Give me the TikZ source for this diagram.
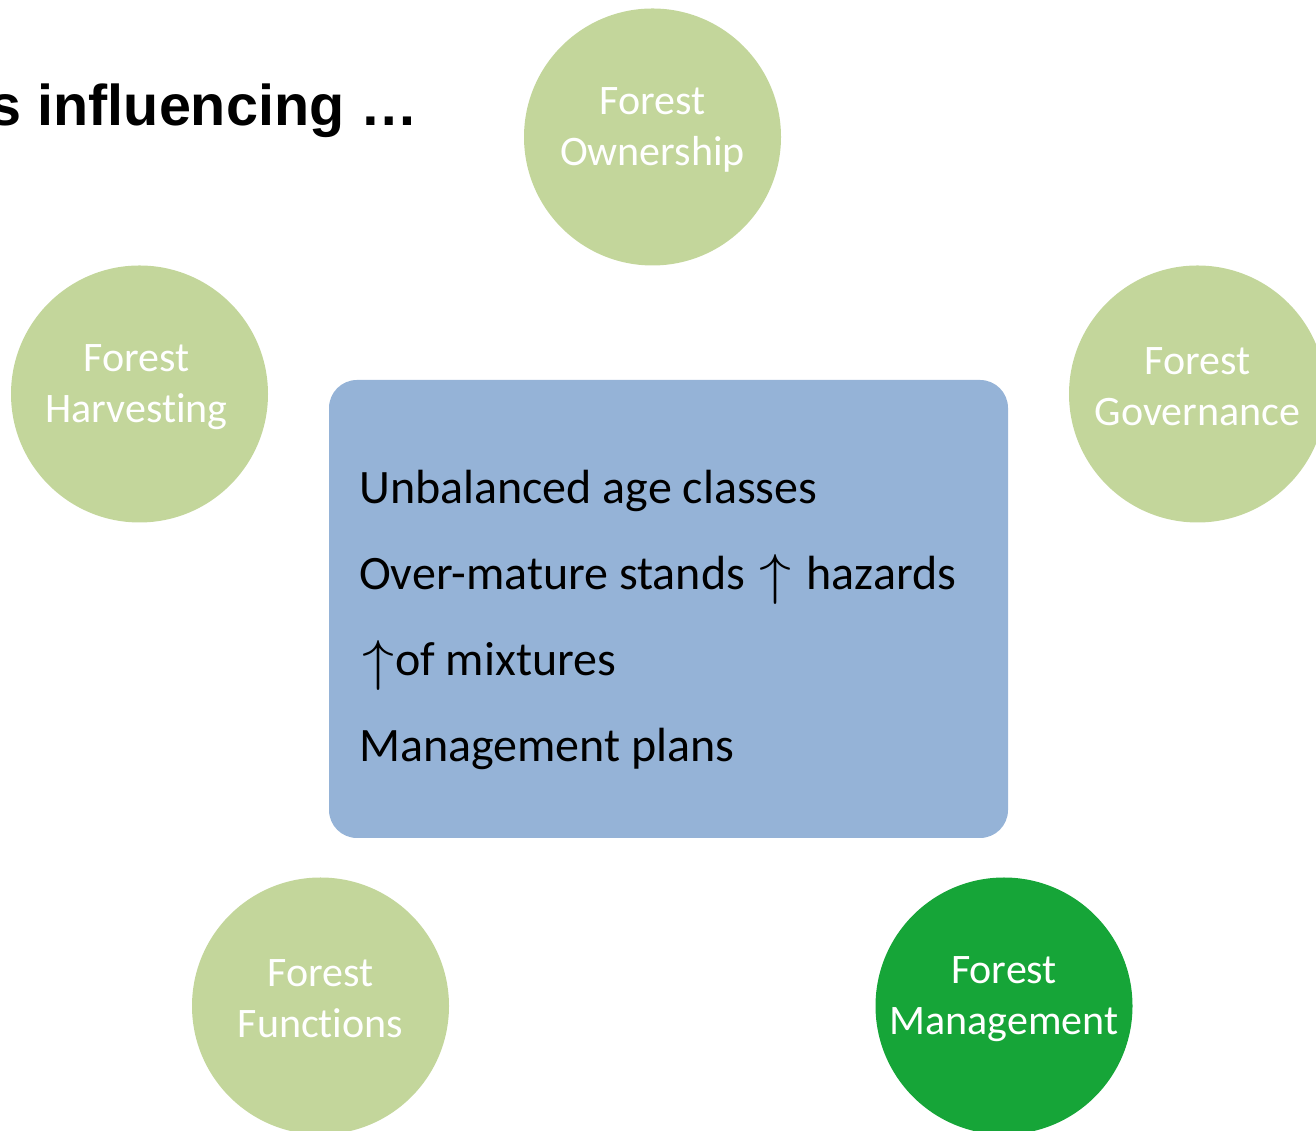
\documentclass[tikz,border=0pt]{standalone}
\usepackage{graphicx}
\usepackage{fontspec}
\setmainfont{Carlito}[Ligatures=NoCommon]
\newfontfamily\titlefont{Liberation Sans}
\definecolor{lightgreen}{HTML}{C3D69B}
\definecolor{darkgreen}{HTML}{16A538}
\definecolor{boxblue}{HTML}{95B3D7}
\newcommand{\uparr}{\hspace{4pt}\raisebox{-4pt}{\resizebox{32pt}{39pt}{$\uparrow$}}\hspace{4pt}}
\begin{document}
\begin{tikzpicture}[x=1pt,y=1pt,
  bubble/.style={circle,minimum size=257pt,inner sep=0pt,fill=lightgreen},
  active/.style={bubble,fill=darkgreen},
  bubbletext/.style={inner sep=0pt,text=white,align=center,font=\fontsize{42}{51}\selectfont},
  line/.style={anchor=base west,inner sep=0pt,font=\fontsize{48}{58}\selectfont,text=black},
  panel/.style={fill=boxblue,rounded corners=28pt,draw=none}]
\useasboundingbox (0,0) rectangle (1316,1131);
\clip (0,0) rectangle (1316,1131);
\node[anchor=base east,inner sep=0pt,font=\titlefont\bfseries\fontsize{57.5}{62}\selectfont] (title) at (418,1005) {s influencing \dots};
\node[bubble] (own) at (652.5,994) {};
\node[bubble] (harv) at (139.5,737) {};
\node[bubble] (gov) at (1197.5,737) {};
\node[bubble] (func) at (320.5,125) {};
\node[active] (mgmt) at (1004,125) {};
\node[bubbletext] (ownt) at ([yshift=7]own.center) {Forest\\Ownership};
\node[bubbletext] (harvt) at ([xshift=-3,yshift=7]harv.center) {Forest\\Harvesting};
\node[bubbletext] (govt) at ([yshift=7]gov.center) {Forest\\Governance};
\node[bubbletext] (funct) at ([yshift=7]func.center) {Forest\\Functions};
\node[bubbletext] (mgmtt) at ([yshift=7]mgmt.center) {Forest\\Management};
\path[panel] (329,293) rectangle (1008,751);
\node[line] (l1) at (359,627) {Unbalanced age classes};
\node[line] (l2) at (359,541) {Over-mature stands \uparr{} hazards};
\node[line] (l3) at (359,455) {\hspace{-1pt}\uparr\hspace{-3pt}of mixtures};
\node[line] (l4) at (359,369) {Management plans};
\end{tikzpicture}
\end{document}
